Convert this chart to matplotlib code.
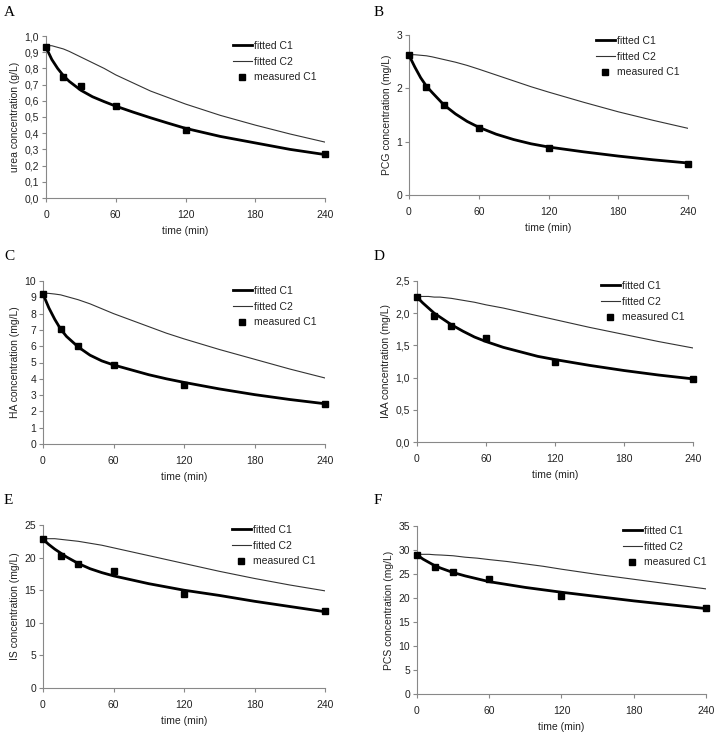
import matplotlib
matplotlib.use('Agg')
import matplotlib.pyplot as plt
from matplotlib.ticker import FuncFormatter

plt.rcParams['font.family'] = ['Liberation Sans', 'DejaVu Sans']

# time grids (min)
fit_t = [0, 5, 10, 15, 20, 30, 40, 50, 60, 75, 90, 105, 120, 150, 180, 210, 240]
meas_t = [0, 15, 30, 60, 120, 240]

# A: urea (g/L)
urea_c1 = [0.93, 0.855, 0.80, 0.755, 0.72, 0.665, 0.625, 0.595, 0.567, 0.53, 0.495, 0.462, 0.43, 0.38, 0.34, 0.30, 0.268]
urea_c2 = [0.94, 0.94, 0.93, 0.92, 0.905, 0.87, 0.835, 0.80, 0.76, 0.71, 0.66, 0.62, 0.58, 0.51, 0.45, 0.395, 0.345]
urea_meas = [0.93, 0.75, 0.69, 0.57, 0.42, 0.27]

# B: PCG (mg/L)
pcg_c1 = [2.62, 2.40, 2.20, 2.04, 1.92, 1.69, 1.52, 1.38, 1.27, 1.14, 1.04, 0.96, 0.90, 0.81, 0.73, 0.66, 0.60]
pcg_c2 = [2.63, 2.63, 2.62, 2.61, 2.59, 2.54, 2.49, 2.43, 2.36, 2.25, 2.14, 2.03, 1.93, 1.74, 1.56, 1.40, 1.25]
pcg_meas = [2.62, 2.03, 1.69, 1.26, 0.88, 0.59]

# C: HA (mg/L)
ha_c1 = [9.2, 8.35, 7.65, 7.05, 6.6, 5.95, 5.45, 5.1, 4.85, 4.55, 4.25, 4.0, 3.78, 3.38, 3.03, 2.73, 2.47]
ha_c2 = [9.25, 9.24, 9.2, 9.15, 9.05, 8.85, 8.6, 8.3, 8.0, 7.6, 7.2, 6.8, 6.45, 5.8, 5.2, 4.6, 4.05]
ha_meas = [9.2, 7.05, 6.0, 4.85, 3.65, 2.45]

# D: IAA (mg/L)
iaa_c1 = [2.25, 2.16, 2.08, 2.0, 1.94, 1.82, 1.72, 1.63, 1.56, 1.47, 1.40, 1.33, 1.28, 1.19, 1.11, 1.04, 0.98]
iaa_c2 = [2.26, 2.26, 2.26, 2.25, 2.25, 2.23, 2.20, 2.17, 2.13, 2.08, 2.02, 1.96, 1.90, 1.78, 1.67, 1.56, 1.46]
iaa_meas = [2.25, 1.96, 1.80, 1.62, 1.25, 0.98]

# E: IS (mg/L)
is_c1 = [22.8, 22.0, 21.3, 20.7, 20.1, 19.1, 18.3, 17.7, 17.2, 16.6, 16.0, 15.5, 15.0, 14.2, 13.3, 12.5, 11.7]
is_c2 = [22.9, 22.9, 22.9, 22.8, 22.7, 22.5, 22.2, 21.9, 21.5, 20.9, 20.3, 19.7, 19.1, 17.9, 16.8, 15.8, 14.9]
is_meas = [22.8, 20.2, 19.0, 18.0, 14.4, 11.8]

# F: PCS (mg/L)
pcs_c1 = [29.0, 28.1, 27.4, 26.7, 26.2, 25.3, 24.6, 24.0, 23.4, 22.8, 22.2, 21.7, 21.2, 20.3, 19.4, 18.6, 17.8]
pcs_c2 = [29.1, 29.1, 29.1, 29.0, 28.95, 28.8, 28.5, 28.3, 28.0, 27.6, 27.1, 26.6, 26.0, 24.9, 23.9, 22.9, 21.9]
pcs_meas = [29.0, 26.4, 25.4, 24.0, 20.5, 17.9]

W, H = 716, 733
fig = plt.figure(figsize=(W / 100, H / 100), dpi=100)

# letter, ylabel, c1, c2, meas, ymax, ystep, comma, axes box (l, r, t, b px), legend (x, y px), letter (x, y px)
panels = [
    ('A', 'urea concentration (g/L)', urea_c1, urea_c2, urea_meas, 1.0, 0.1, True,
     (46, 325, 36, 198), (233, 41), (4, 6)),
    ('B', 'PCG concentration (mg/L)', pcg_c1, pcg_c2, pcg_meas, 3, 1, False,
     (409, 688, 35, 195), (596, 36), (374, 6)),
    ('C', 'HA concentration (mg/L)', ha_c1, ha_c2, ha_meas, 10, 1, False,
     (43, 325, 281, 444), (233, 286), (4, 250)),
    ('D', 'IAA concentration (mg/L)', iaa_c1, iaa_c2, iaa_meas, 2.5, 0.5, True,
     (417, 693, 281, 442), (601, 281), (374, 250)),
    ('E', 'IS concentration (mg/L)', is_c1, is_c2, is_meas, 25, 5, False,
     (43, 325, 525, 688), (232, 525), (4, 494)),
    ('F', 'PCS concentration (mg/L)', pcs_c1, pcs_c2, pcs_meas, 35, 5, False,
     (417, 706, 526, 694), (623, 526), (374, 494)),
]

spine_col = '#888888'
txt_col = '#222222'

for (letter, ylab, c1, c2, meas, ymax, ystep, comma, box, leg, lpos) in panels:
    l, r, t, b = box
    ax = fig.add_axes([l / W, 1 - b / H, (r - l) / W, (b - t) / H])
    ax.plot(fit_t, c1, color='black', lw=2.0, label='fitted C1', zorder=3)
    ax.plot(fit_t, c2, color='#333333', lw=0.8, label='fitted C2', zorder=2)
    ax.plot(meas_t, meas, 's', color='black', ms=5, label='measured C1', clip_on=False, zorder=4)

    ax.set_xlim(0, 240)
    ax.set_ylim(0, ymax)
    ax.set_xticks([0, 60, 120, 180, 240])
    n = int(round(ymax / ystep))
    ax.set_yticks([i * ystep for i in range(n + 1)])
    if comma:
        ax.yaxis.set_major_formatter(FuncFormatter(lambda v, p: ('%.1f' % v).replace('.', ',')))
    for s in ['top', 'right']:
        ax.spines[s].set_visible(False)
    for s in ['left', 'bottom']:
        ax.spines[s].set_color(spine_col)
        ax.spines[s].set_linewidth(0.8)
    ax.tick_params(direction='out', length=3, width=0.8, color=spine_col,
                   labelsize=7.5, labelcolor=txt_col, pad=2)
    ax.tick_params(axis='x', pad=5.5)
    ax.set_xlabel('time (min)', fontsize=7.5, color=txt_col, labelpad=4.5)
    ax.set_ylabel(ylab, fontsize=7.5, color=txt_col, labelpad=3)

    ax.legend(loc='upper left', bbox_to_anchor=(leg[0] / W, 1 - leg[1] / H),
              bbox_transform=fig.transFigure, frameon=False, fontsize=7.5,
              borderpad=0, borderaxespad=0, handlelength=1.8, handletextpad=0.2,
              labelspacing=0.55, numpoints=1, labelcolor=txt_col)

    fig.text(lpos[0] / W, 1 - lpos[1] / H, letter, family='Liberation Serif',
             fontsize=11, va='top', ha='left')

fig.savefig('out.png', dpi=100)
